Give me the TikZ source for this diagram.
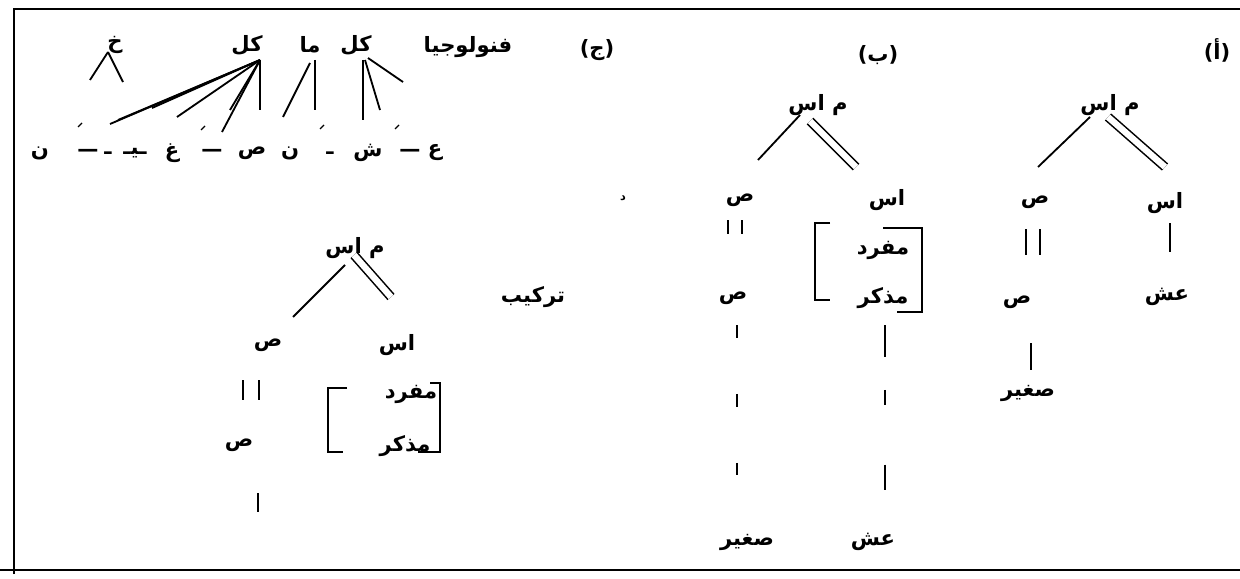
\documentclass[tikz,border=0pt]{standalone}
\usepackage{fontspec}
\newfontfamily\arabicfont[Script=Arabic]{DejaVu Sans}
\TeXXeTstate=1
\usetikzlibrary{calc}
\newcommand{\ar}[1]{\beginR #1\endR}

\begin{document}
\begin{tikzpicture}[x=0.025cm,y=-0.025cm,
  lbl/.style={font=\arabicfont\bfseries\fontsize{15}{16}\selectfont,inner sep=0pt},
  ln/.style={line width=1.3pt},
  dbl/.style={line width=1.1pt,double,double distance=4.5pt},
  vbar/.style={line width=1.3pt,double,double distance=8.6pt},
  brk/.style={line width=1.5pt}]
\useasboundingbox (0,0) rectangle (1240,578);

% frame
\draw[line width=0.9pt] (14,574) -- (14,9) -- (1240,9);
\draw[line width=0.9pt] (0,570) -- (1240,570);
\draw[line width=2pt] (65,9) -- (150,9);
\draw[line width=2pt] (563,9) -- (650,9);
\draw[line width=2pt] (1125,9) -- (1210,9);

% tree (a)
\node[lbl] (tagA) at (1217,50) {\ar{(أ)}};
\node[lbl] (rootA) at (1110,105) {\ar{م اس}};
\node[lbl] (aA) at (1035,202) {\ar{ص}};
\node[lbl] (nA) at (1165,203) {\ar{اس}};
\node[lbl] (adjA) at (1017,302) {\ar{ص}};
\node[lbl] (nestA) at (1167,297) {\ar{عش}};
\node[lbl] (smallA) at (1028,393) {\ar{صغير}};
\draw[ln] ($(rootA)+(-20,12)$) -- ($(aA)+(3,-35)$);
\draw[dbl] ($(rootA)+(-2,12)$) -- ($(nA)+(0,-36)$);
\draw[ln] ($(nA)+(5,20)$) -- ($(nestA)+(3,-45)$);
\draw[vbar] ($(aA)+(-2,27)$) -- ($(adjA)+(16,-47)$);
\draw[ln] ($(adjA)+(14,41)$) -- ($(smallA)+(3,-23)$);

% tree (b)
\node[lbl] (tagB) at (878,55) {\ar{(ب)}};
\node[lbl] (rootB) at (818,105) {\ar{م اس}};
\node[lbl] (aB) at (740,200) {\ar{ص}};
\node[lbl] (nB) at (887,200) {\ar{اس}};
\node[lbl] (sgB) at (883,250) {\ar{مفرد}};
\node[lbl] (mascB) at (883,298) {\ar{مذكر}};
\node[lbl] (adjB) at (733,298) {\ar{ص}};
\node[lbl] (smallB) at (747,542) {\ar{صغير}};
\node[lbl] (nestB) at (873,542) {\ar{عش}};
\draw[ln] ($(rootB)+(-18,10)$) -- ($(aB)+(18,-40)$);
\draw[dbl] ($(rootB)+(-8,16)$) -- ($(nB)+(-31,-33)$);
\draw[vbar] ($(aB)+(-5,20)$) -- ($(adjB)+(2,-64)$);
\draw[ln,dash pattern=on 9pt off 40pt] ($(adjB)+(4,27)$) -- ($(smallB)+(-10,-59)$);
\draw[ln,dash pattern=on 22.7pt off 23.4pt on 10.6pt off 42.5pt] ($(mascB)+(2,27)$) -- ($(nestB)+(12,-52)$);
\draw[brk] (830,223) -- (815,223) -- (815,300) -- (830,300);
\draw[brk] (883,228) -- (922,228) -- (922,312) -- (897,312);
\node[lbl,font=\arabicfont\bfseries\fontsize{8}{9}\selectfont] (stray) at (623,198) {\ar{د}};

% tree (c), syntax
\node[lbl] (synTitle) at (533,297) {\ar{تركيب}};
\node[lbl] (rootC) at (355,248) {\ar{م اس}};
\node[lbl] (aC) at (268,345) {\ar{ص}};
\node[lbl] (nC) at (397,345) {\ar{اس}};
\node[lbl] (sgC) at (411,394) {\ar{مفرد}};
\node[lbl] (mascC) at (405,446) {\ar{مذكر}};
\node[lbl] (adjC) at (239,445) {\ar{ص}};
\coordinate (tailC) at (258,512);
\draw[ln] ($(rootC)+(-10,17)$) -- ($(aC)+(25,-28)$);
\draw[dbl] ($(rootC)+(-1,7)$) -- ($(nC)+(-6,-48)$);
\draw[vbar,double distance=10pt] ($(aC)+(-17,35)$) -- ($(adjC)+(12,-45)$);
\draw[ln] ($(adjC)+(19,48)$) -- (tailC);
\draw[brk] (347,388) -- (328,388) -- (328,452) -- (343,452);
\draw[brk] (430,383) -- (440,383) -- (440,452) -- (418,452);

% tree (c), phonology
\node[lbl] (phonTitle) at (468,47) {\ar{فنولوجيا}};
\node[lbl] (tagC) at (597,50) {\ar{(ج)}};
\node[lbl] (t1) at (115,45) {\ar{خ}};
\node[lbl] (t2) at (247,45) {\ar{كل}};
\node[lbl] (t3) at (310,45) {\ar{ما}};
\node[lbl] (t4) at (356,45) {\ar{كل}};
\node[lbl] (s1) at (435,153) {\ar{ع}};
\node[lbl] (s2) at (410,153) {—};
\node[lbl] (s3) at (368,153) {\ar{ش}};
\node[lbl] (s4) at (330,153) {\ar{ـ}};
\node[lbl] (s5) at (290,153) {\ar{ن}};
\node[lbl] (s6) at (252,153) {\ar{ص}};
\node[lbl] (s7) at (212,153) {—};
\node[lbl] (s8) at (172,153) {\ar{غ}};
\node[lbl] (s9) at (135,153) {\ar{ـيـ}};
\node[lbl] (s10) at (108,153) {\ar{ـ}};
\node[lbl] (s11) at (88,153) {—};
\node[lbl] (s12) at (40,153) {\ar{ن}};
\coordinate (c1) at (90,80);
\coordinate (c2) at (123,82);
\coordinate (c3) at (403,82);
\draw[ln] ($(t1)+(-7,7)$) -- (c1);
\draw[ln] ($(t1)+(-7,7)$) -- (c2);
\foreach \s/\dx/\dy in {s10/2/-29, s10/10/-33, s9/17/-45, s8/5/-36, s7/10/-21, s7/18/-43, s6/8/-43}
  \draw[ln] ($(t2)+(13,15)$) -- ($(\s)+(\dx,\dy)$);
\draw[ln] ($(t3)+(5,15)$) -- ($(s4)+(-15,-43)$);
\draw[ln] ($(t3)+(0,18)$) -- ($(s5)+(-7,-36)$);
\draw[ln] ($(t4)+(7,15)$) -- ($(s3)+(-5,-33)$);
\draw[ln] ($(t4)+(9,15)$) -- ($(s3)+(12,-43)$);
\draw[ln] ($(t4)+(12,13)$) -- (c3);
% vowel marks
\foreach \mx/\my in {80/125, 203/128, 322/127, 397/127}
  \draw[line width=0.9pt] (\mx-2,\my+2) -- (\mx+2,\my-2);
\end{tikzpicture}
\end{document}
